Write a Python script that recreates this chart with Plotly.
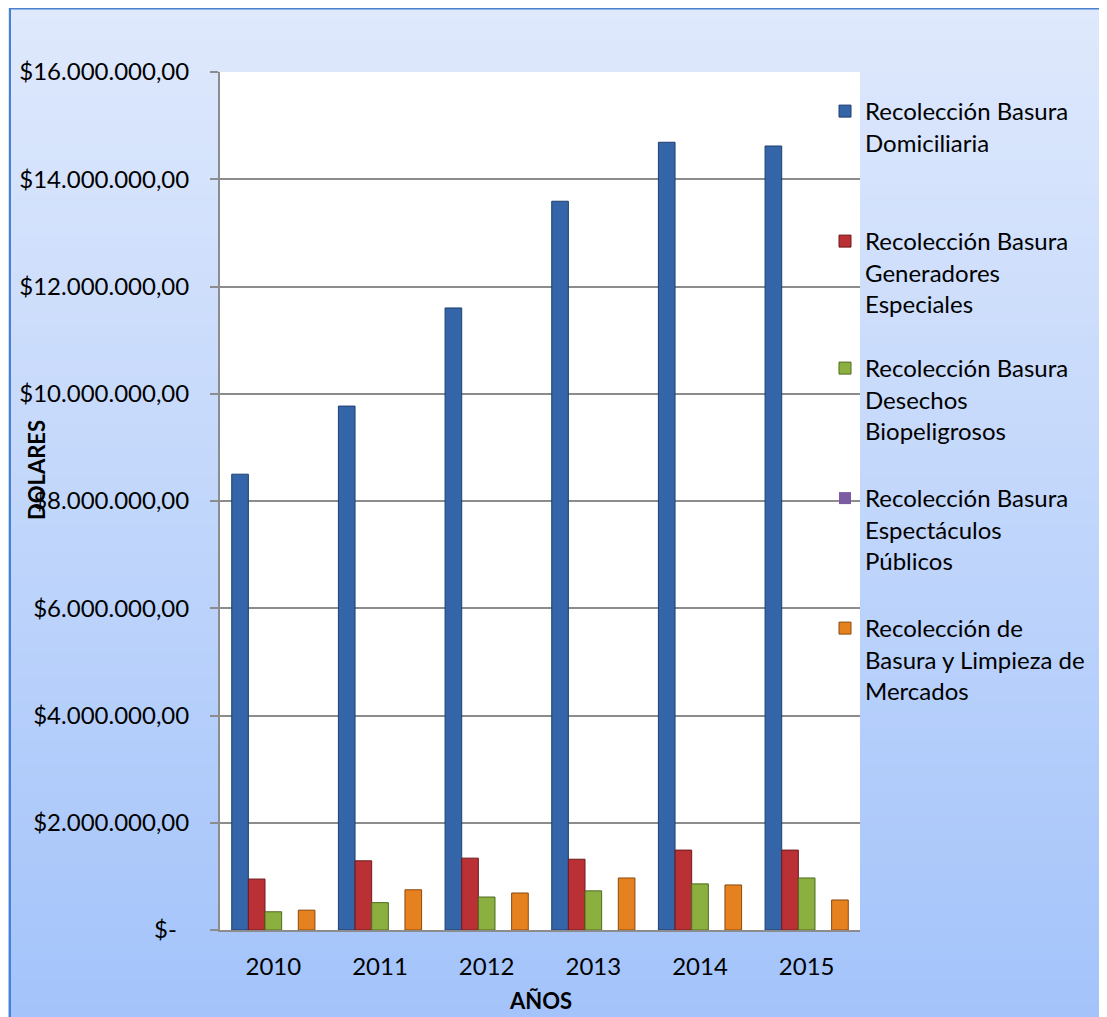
import plotly.graph_objects as go

# ---- data ----
years = ["2010", "2011", "2012", "2013", "2014", "2015"]
series_names = [
    "Recolección Basura<br>Domiciliaria",
    "Recolección Basura<br>Generadores<br>Especiales",
    "Recolección Basura<br>Desechos<br>Biopeligrosos",
    "Recolección Basura<br>Espectáculos<br>Públicos",
    "Recolección de<br>Basura y Limpieza de<br>Mercados",
]
domiciliaria = [8500000, 9770000, 11600000, 13590000, 14690000, 14620000]
generadores = [950000, 1290000, 1340000, 1320000, 1490000, 1490000]
biopeligrosos = [340000, 510000, 615000, 730000, 860000, 970000]
espectaculos = [0, 0, 0, 0, 0, 0]
mercados = [370000, 750000, 690000, 970000, 840000, 560000]
series_values = [domiciliaria, generadores, biopeligrosos, espectaculos, mercados]

y_tickvals = [0, 2e6, 4e6, 6e6, 8e6, 10e6, 12e6, 14e6, 16e6]
y_ticktext = ["$-  ", "$2.000.000,00", "$4.000.000,00", "$6.000.000,00", "$8.000.000,00",
              "$10.000.000,00", "$12.000.000,00", "$14.000.000,00", "$16.000.000,00"]

# ---- style ----
colors = ["#3465a8", "#b93135", "#8bb03f", "#7b5ca3", "#e5821f"]
line_colors = ["#1f3f6e", "#6e1a1c", "#4f6a1f", "#4a3566", "#8a4a0e"]
FONT = "Lato"
FS = 24
OFF = 8  # page body margin
W, H = 1107 - OFF, 1017 - OFF
ML, MR, MT, MB = 220 - OFF, 247, 72 - OFF, 87
PW, PH = W - ML - MR, H - MT - MB


def px_x(px):
    return (px - ML) / PW


def px_y(py):
    return (H - MB - py) / PH


fig = go.Figure()
legend_names = ["legend", "legend2", "legend3", "legend4", "legend5"]
for i, (name, vals) in enumerate(zip(series_names, series_values)):
    fig.add_trace(go.Bar(
        x=years, y=vals, name=name,
        marker=dict(color=colors[i], line=dict(color=line_colors[i], width=0 if max(vals) == 0 else 1)),
        legend=legend_names[i],
    ))

# gradient background strips
shapes = []
top = (0xdf, 0xe9, 0xfc)
bot = (0xa3, 0xc3, 0xfa)
N = 80
for k in range(N):
    t = (k + 0.5) / N
    c = tuple(int(round(top[j] + (bot[j] - top[j]) * t)) for j in range(3))
    y0 = k * H / N
    y1 = (k + 1) * H / N + 1
    shapes.append(dict(type="rect", xref="paper", yref="paper",
                       x0=px_x(0), x1=px_x(W), y0=px_y(y1), y1=px_y(y0),
                       fillcolor="rgb(%d,%d,%d)" % c, line=dict(width=0), layer="below"))
# white plot area
shapes.append(dict(type="rect", xref="x domain", yref="y domain", x0=0, x1=1, y0=0, y1=1,
                   fillcolor="white", line=dict(width=0), layer="below"))
# outer border
shapes.append(dict(type="rect", xref="paper", yref="paper",
                   x0=px_x(2), x1=px_x(W + 50), y0=px_y(H + 50), y1=px_y(0.5),
                   fillcolor="rgba(0,0,0,0)", line=dict(color="#4a80d0", width=2), layer="above"))

legend_y = [112, 242, 369, 499, 629]
legend_common = dict(bgcolor="rgba(0,0,0,0)", font=dict(family=FONT, size=FS, color="#000"),
                     xanchor="left", yanchor="top", valign="top", itemclick=False)
layout_legends = {}
for i, ln in enumerate(legend_names):
    layout_legends[ln] = dict(x=px_x(817), y=px_y(legend_y[i] - 31), **legend_common)

fig.update_layout(
    width=W, height=H,
    margin=dict(l=ML, r=MR, t=MT, b=MB),
    paper_bgcolor="#c8daf9",
    plot_bgcolor="white",
    barmode="group", bargap=0.22, bargroupgap=0,
    font=dict(family=FONT, size=FS, color="#000"),
    shapes=shapes,
    showlegend=True,
    **layout_legends,
    xaxis=dict(type="category", showline=True, linecolor="#8c8c8c", linewidth=2,
               ticks="", showgrid=False, ticklabelstandoff=14,
               tickfont=dict(family=FONT, size=FS, color="#000")),
    yaxis=dict(range=[0, 16e6], tickvals=y_tickvals, ticktext=y_ticktext,
               showgrid=True, gridcolor="#8c8c8c", gridwidth=1.5,
               ticks="outside", ticklen=8, tickcolor="#8c8c8c", tickwidth=1.5,
               showline=True, linecolor="#8c8c8c", linewidth=2,
               zeroline=False, ticklabelstandoff=16,
               tickfont=dict(family=FONT, size=FS, color="#000")),
    annotations=[
        dict(text="<b>DOLARES</b>", xref="paper", yref="paper", x=px_x(37 - OFF), y=px_y(470 - OFF),
             textangle=-90, showarrow=False, font=dict(family=FONT, size=22, color="#000"),
             xanchor="center", yanchor="middle"),
        dict(text="<b>AÑOS</b>", xref="paper", yref="paper", x=px_x(540 - OFF), y=px_y(1000 - OFF),
             showarrow=False, font=dict(family=FONT, size=22, color="#000"),
             xanchor="center", yanchor="middle"),
    ],
)

fig.write_html("out.html")
